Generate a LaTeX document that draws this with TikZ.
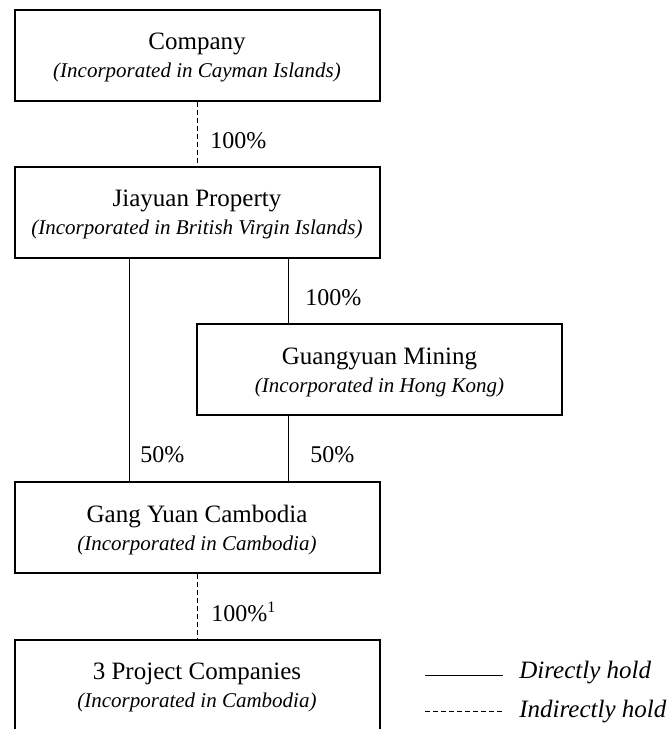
\documentclass[tikz,border=0pt]{standalone}
\usepackage{fontspec}
\setmainfont{Liberation Serif}
\newcommand{\incorp}[1]{\rule{0pt}{11pt}{\fontsize{10.5}{14}\selectfont\itshape (Incorporated in #1)}}
\tikzstyle{entity} = [draw, line width=1pt, minimum height=45.5pt, minimum width=182.5pt, text centered, align=center, font=\fontsize{12.5}{14}\selectfont]
\tikzstyle{share} = [anchor=west, inner sep=0pt, font=\fontsize{12}{12}\selectfont]
\tikzstyle{legend} = [anchor=west, inner sep=0pt, font=\fontsize{12.5}{12}\selectfont\itshape]
\tikzstyle{indirect} = [line width=0.5pt, dash pattern=on 2.5pt off 1.5pt]

\begin{document}
\begin{tikzpicture}[x=0.5pt, y=-0.5pt]
    \useasboundingbox (0,0) rectangle (671,729);
    \clip (0,0) rectangle (671,729);

    \node[entity](company) at (197,55) {\rule{0pt}{11pt}Company \\ \incorp{Cayman Islands}};
    \node[entity](jiayuan) at (197,212) {\rule{0pt}{11pt}Jiayuan Property \\ \incorp{British Virgin Islands}};
    \node[entity](guangyuan) at (379.5,369.5) {\rule{0pt}{11pt}Guangyuan Mining \\ \incorp{Hong Kong}};
    \node[entity](gangyuan) at (197,527.5) {\rule{0pt}{11pt}Gang Yuan Cambodia \\ \incorp{Cambodia}};
    \node[entity](project) at (197,685) {\rule{0pt}{11pt}3 Project Companies \\ \incorp{Cambodia}};

    % shareholdings
    \draw[indirect] (company) -- (jiayuan);
    \draw[line width=0.5pt] ([xshift=-34pt]jiayuan.south) -- ([xshift=-34pt]gangyuan.north);
    \draw[line width=0.5pt] ([xshift=45.5pt]jiayuan.south) -- ([xshift=45.5pt]jiayuan.south |- guangyuan.north);
    \draw[line width=0.5pt] ([xshift=-45.5pt]guangyuan.south) -- ([xshift=-45.5pt]guangyuan.south |- gangyuan.north);
    \draw[indirect] (gangyuan) -- (project);

    \node[share](p1) at (210,141) {100\%};
    \node[share](p2) at (305,298) {100\%};
    \node[share](p3) at (140,455) {50\%};
    \node[share](p4) at (310,455) {50\%};
    \node[share](p5) at (211,612) {100\%\textsuperscript{1}};

    % legend
    \node[legend](direct) at (519,673) {Directly hold};
    \node[legend](indirectly) at (519,712) {Indirectly hold};
    \coordinate (dstart) at (425,675);
    \coordinate (istart) at (425,711);
    \draw[line width=0.5pt] (dstart) -- (dstart -| 503,0);
    \draw[indirect] (istart) -- (istart -| 503,0);
\end{tikzpicture}
\end{document}
